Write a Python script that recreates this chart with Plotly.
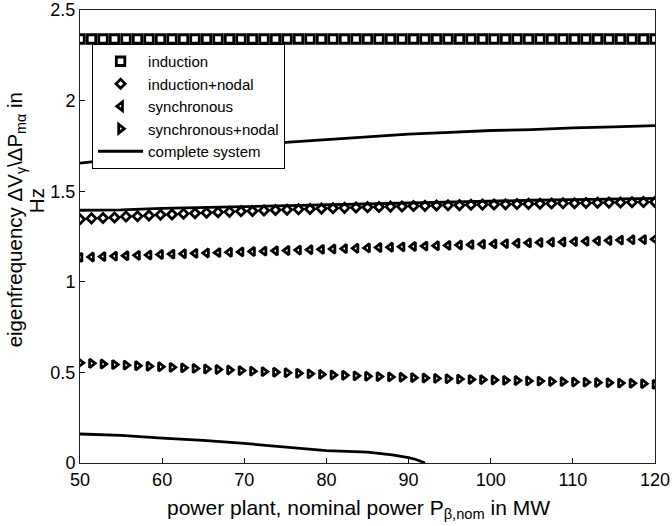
import plotly.graph_objects as go

# Power plant nominal power (MW) for the marker series
x_pts = [50, 51.4, 52.8, 54.2, 55.6, 57, 58.4, 59.8, 61.2, 62.6, 64, 65.4, 66.8, 68.2, 69.6,
         71, 72.4, 73.8, 75.2, 76.6, 78, 79.4, 80.8, 82.2, 83.6, 85, 86.4, 87.8, 89.2, 90.6,
         92, 93.4, 94.8, 96.2, 97.6, 99, 100.4, 101.8, 103.2, 104.6, 106, 107.4, 108.8, 110.2,
         111.6, 113, 114.4, 115.8, 117.2, 118.6, 120]

induction = [2.34, 2.34, 2.34, 2.34, 2.34, 2.34, 2.34, 2.34, 2.34, 2.34, 2.34, 2.34, 2.34,
             2.34, 2.34, 2.34, 2.34, 2.34, 2.34, 2.34, 2.34, 2.34, 2.34, 2.34, 2.34, 2.34,
             2.34, 2.34, 2.34, 2.34, 2.34, 2.34, 2.34, 2.34, 2.34, 2.34, 2.34, 2.34, 2.34,
             2.34, 2.34, 2.34, 2.34, 2.34, 2.34, 2.34, 2.34, 2.34, 2.34, 2.34, 2.34]

induction_nodal = [1.345, 1.350, 1.352, 1.355, 1.360, 1.362, 1.366, 1.370, 1.372, 1.376, 1.378,
                   1.381, 1.384, 1.386, 1.389, 1.391, 1.394, 1.396, 1.398, 1.400, 1.402, 1.404,
                   1.406, 1.408, 1.410, 1.412, 1.413, 1.415, 1.416, 1.418, 1.419, 1.421, 1.422,
                   1.423, 1.425, 1.426, 1.427, 1.428, 1.429, 1.430, 1.431, 1.432, 1.433, 1.434,
                   1.435, 1.436, 1.437, 1.438, 1.439, 1.440, 1.441]

synchronous = [1.135, 1.137, 1.139, 1.142, 1.144, 1.146, 1.148, 1.151, 1.153, 1.155, 1.157,
               1.159, 1.161, 1.163, 1.165, 1.167, 1.169, 1.171, 1.173, 1.175, 1.177, 1.179,
               1.181, 1.183, 1.185, 1.187, 1.189, 1.191, 1.193, 1.195, 1.197, 1.199, 1.201,
               1.203, 1.205, 1.207, 1.209, 1.211, 1.213, 1.215, 1.217, 1.219, 1.220, 1.222,
               1.224, 1.226, 1.228, 1.230, 1.232, 1.233, 1.235]

synchronous_nodal = [0.553, 0.550, 0.546, 0.543, 0.540, 0.537, 0.534, 0.531, 0.528, 0.525,
                     0.522, 0.519, 0.516, 0.513, 0.510, 0.507, 0.504, 0.501, 0.498, 0.495,
                     0.492, 0.489, 0.486, 0.484, 0.481, 0.479, 0.477, 0.475, 0.473, 0.471,
                     0.469, 0.467, 0.465, 0.463, 0.461, 0.460, 0.458, 0.456, 0.455, 0.453,
                     0.452, 0.450, 0.449, 0.447, 0.446, 0.444, 0.443, 0.441, 0.440, 0.438,
                     0.434]

# Complete system: three branches
cs_x_upper = [50, 52, 55, 60, 65, 70, 75, 80, 85, 90, 95, 100, 105, 110, 115, 120]
cs_y_upper = [1.655, 1.665, 1.68, 1.705, 1.73, 1.75, 1.77, 1.785, 1.80, 1.815, 1.825, 1.835,
              1.84, 1.85, 1.855, 1.862]
cs_x_mid = [50, 55, 60, 65, 70, 75, 80, 85, 90, 95, 100, 105, 110, 115, 120]
cs_y_mid = [1.395, 1.397, 1.405, 1.41, 1.418, 1.423, 1.428, 1.432, 1.437, 1.441, 1.446, 1.45,
            1.453, 1.456, 1.46]
cs_x_low = [50, 55, 60, 65, 70, 75, 80, 85, 88, 90, 91, 92]
cs_y_low = [0.16, 0.152, 0.137, 0.125, 0.108, 0.09, 0.068, 0.06, 0.045, 0.03, 0.018, 0.0]

x_ticks = [50, 60, 70, 80, 90, 100, 110, 120]
y_ticks = [0, 0.5, 1, 1.5, 2, 2.5]
y_ticktext = ["0", "0.5", "1", "1.5", "2", "2.5"]

x_title = "power plant, nominal power P<sub>β,nom</sub> in MW"
y_title_1 = "eigenfrequency ΔV<sub>γ</sub>\\ΔP<sub>mα</sub> in"
y_title_2 = "Hz"

FONT = "Arial, Liberation Sans, sans-serif"

fig = go.Figure()

mk_line = dict(color="black", width=2.8)
fig.add_trace(go.Scatter(x=x_pts, y=induction, mode="markers", name="induction",
                         marker=dict(symbol="square-open", size=8.5, color="black", line=mk_line)))
fig.add_trace(go.Scatter(x=x_pts, y=induction_nodal, mode="markers", name="induction+nodal",
                         marker=dict(symbol="diamond-open", size=7, color="black", line=mk_line)))
fig.add_trace(go.Scatter(x=x_pts, y=synchronous, mode="markers", name="synchronous",
                         marker=dict(symbol="triangle-left-open", size=7.5, color="black", line=mk_line)))
fig.add_trace(go.Scatter(x=x_pts, y=synchronous_nodal, mode="markers", name="synchronous+nodal",
                         marker=dict(symbol="triangle-right-open", size=7.5, color="black", line=mk_line)))

cs_x = cs_x_upper + [None] + cs_x_mid + [None] + cs_x_low
cs_y = cs_y_upper + [None] + cs_y_mid + [None] + cs_y_low
fig.add_trace(go.Scatter(x=cs_x, y=cs_y, mode="lines", name="complete system",
                         line=dict(color="black", width=2.8), connectgaps=False))

axis_common = dict(showline=True, linecolor="#222", linewidth=1, mirror=True,
                   ticks="inside", ticklen=5, tickcolor="black", showgrid=False,
                   zeroline=False, automargin=False,
                   tickfont=dict(family=FONT, size=18, color="black"))

fig.update_layout(
    width=672, height=526,
    margin=dict(l=80, r=17, t=10, b=63),
    paper_bgcolor="white", plot_bgcolor="white",
    font=dict(family=FONT, color="black"),
    showlegend=True,
    legend=dict(x=0.021, y=0.925, xanchor="left", yanchor="top",
                bgcolor="white", bordercolor="black", borderwidth=1,
                font=dict(family=FONT, size=15, color="black"),
                tracegroupgap=0, itemwidth=45),
    xaxis=dict(range=[50, 120], tickvals=x_ticks, ticktext=[str(v) for v in x_ticks],
               **axis_common),
    yaxis=dict(range=[0, 2.5], tickvals=y_ticks, ticktext=y_ticktext, **axis_common),
    annotations=[
        dict(text=x_title, xref="paper", yref="paper", x=0.4835, y=-0.1015,
             xanchor="center", yanchor="middle", showarrow=False,
             font=dict(family=FONT, size=21, color="black")),
        dict(text=y_title_1, xref="paper", yref="paper", x=-0.111, y=0.536,
             xanchor="center", yanchor="middle", textangle=-90, showarrow=False,
             font=dict(family=FONT, size=20.5, color="black")),
        dict(text=y_title_2, xref="paper", yref="paper", x=-0.0765, y=0.578,
             xanchor="center", yanchor="middle", textangle=-90, showarrow=False,
             font=dict(family=FONT, size=20.5, color="black")),
    ],
)

fig.write_html("out.html", config={"displayModeBar": False},
               post_script="document.body.style.margin='0';")
